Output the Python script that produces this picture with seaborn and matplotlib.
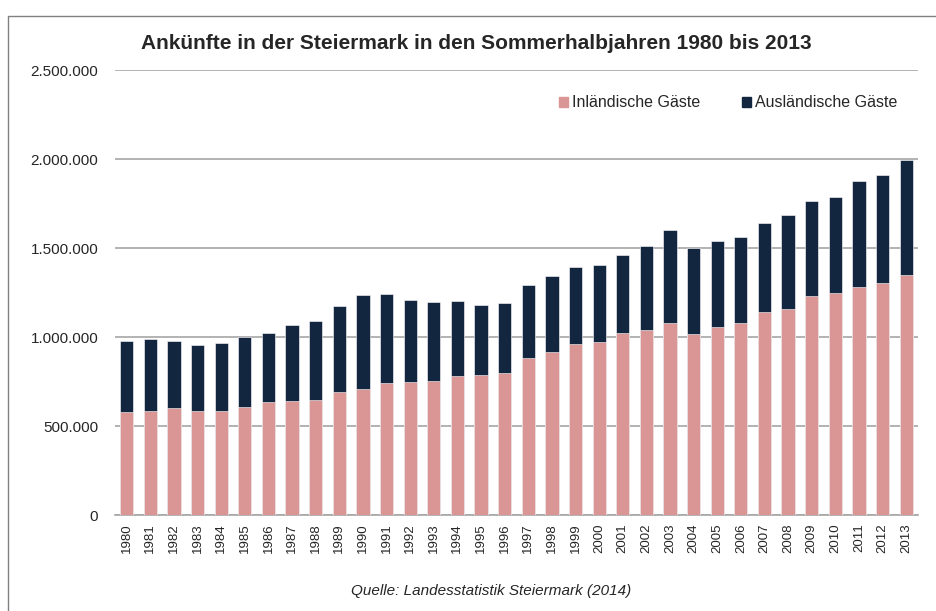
import numpy as np
import pandas as pd
import seaborn as sns
import matplotlib.pyplot as plt
from matplotlib.patches import Patch, Rectangle
from matplotlib.ticker import FuncFormatter

years = [str(y) for y in range(1980, 2014)]
inland = [581, 586, 601, 586, 586, 607, 633, 640, 648, 693, 706, 740, 749, 755, 781, 789, 797,
          882, 915, 962, 975, 1023, 1042, 1078, 1016, 1055, 1078, 1138, 1156, 1229, 1250, 1283, 1302, 1350]
ausland = [395, 401, 375, 369, 382, 393, 389, 430, 440, 483, 532, 504, 461, 440, 423, 389, 395,
           412, 426, 433, 427, 439, 467, 524, 482, 482, 485, 505, 532, 534, 539, 594, 608, 646]
yticks = [0, 500000, 1000000, 1500000, 2000000, 2500000]

col_in = "#d99694"
col_aus = "#132640"

df = pd.DataFrame({"Jahr": years,
                   "Inland": np.array(inland) * 1000,
                   "Ausland": np.array(ausland) * 1000})
df["Gesamt"] = df["Inland"] + df["Ausland"]

sns.set_style("white")
plt.rcParams['font.family'] = ['Liberation Sans', 'DejaVu Sans']

fig = plt.figure(figsize=(9.37, 6.11), dpi=100)
ax = fig.add_axes([0.1227, 0.157, 0.857, 0.7284])

# stacked: total first (dark), domestic on top of it
sns.barplot(data=df, x="Jahr", y="Gesamt", color=col_aus, width=0.56, saturation=1,
            edgecolor="white", linewidth=0.4, ax=ax, zorder=3)
sns.barplot(data=df, x="Jahr", y="Inland", color=col_in, width=0.56, saturation=1,
            edgecolor="white", linewidth=0.4, ax=ax, zorder=4)

ax.set_xlim(-0.5, len(years) - 0.5)
ax.set_ylim(0, 2500000)
ax.set_yticks(yticks)
ax.yaxis.set_major_formatter(FuncFormatter(lambda v, p: "0" if v == 0 else f"{int(v):,}".replace(",", ".")))
ax.yaxis.grid(True, color="#a6a6a6", linewidth=1.2)
ax.set_axisbelow(True)
for s in ["top", "right", "left"]:
    ax.spines[s].set_visible(False)
ax.spines["bottom"].set_color("#a6a6a6")
ax.spines["bottom"].set_linewidth(1.2)
ax.tick_params(axis="y", length=0, pad=12, labelsize=11, labelcolor="#262626")
ax.tick_params(axis="x", length=0, pad=6, labelsize=9.5, labelcolor="#262626", rotation=90)
ax.set_xlabel("")
ax.set_ylabel("")

fig.text(0.508, 0.928, "Ankünfte in der Steiermark in den Sommerhalbjahren 1980 bis 2013",
         ha="center", va="center", fontsize=15, fontweight="bold")

handles = [Patch(color=col_in, label="Inländische Gäste"),
           Patch(color=col_aus, label="Ausländische Gäste")]
ax.legend(handles=handles, loc="center right", bbox_to_anchor=(0.992, 0.926), ncol=2,
          frameon=False, fontsize=11.5, handlelength=0.55, handleheight=0.55,
          handletextpad=0.25, columnspacing=2.6)

fig.text(0.524, 0.033, "Quelle: Landesstatistik Steiermark (2014)", ha="center", va="center",
         fontsize=11, style="italic", color="#262626")

# outer chart frame (top and left edges visible)
fig.patches.append(Rectangle((8 / 937, -0.1), 1.2, 1 - 16 / 611 + 0.1, transform=fig.transFigure,
                             fill=False, edgecolor="#808080", linewidth=1.0))

fig.savefig("out.png", dpi=100)
